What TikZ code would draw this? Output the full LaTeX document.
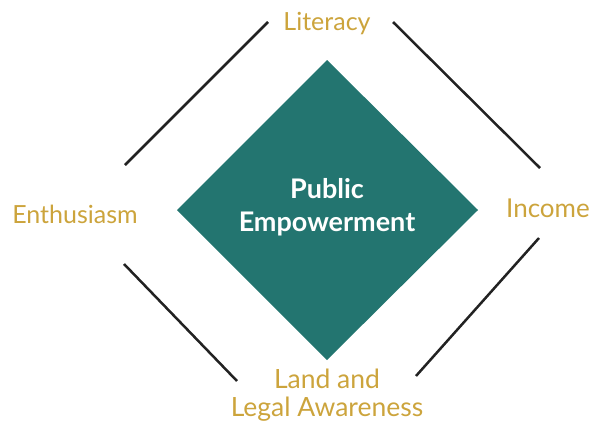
\documentclass[tikz,border=0pt]{standalone}
\usepackage{fontspec}
\setmainfont{Lato}
\definecolor{teal1}{HTML}{237570}
\definecolor{gold1}{HTML}{CCA43C}
\definecolor{line1}{HTML}{222222}
\begin{document}
\begin{tikzpicture}[x=1pt,y=-1pt,
  lbl/.style={text=gold1,font=\fontsize{25}{28}\selectfont,inner sep=0pt,align=center},
  conn/.style={draw=line1,line width=2.5pt}]
\useasboundingbox (0,0) rectangle (594,423);
\fill[teal1] (327,60) -- (478,210) -- (327,360) -- (177,210) -- cycle;
\node[text=white,font=\bfseries\fontsize{27}{33}\selectfont,align=center,inner sep=0pt] (c) at (327,207) {Public\\Empowerment};
\node[lbl] (lit) at (327,24) {Literacy};
\node[lbl] (ent) at (75,214) {Enthusiasm};
\node[lbl,font=\fontsize{26}{28}\selectfont] (inc) at (548,208) {Income};
\node[lbl,font=\fontsize{26.5}{28}\selectfont] (land) at (327,395) {Land and\\Legal Awareness};
\coordinate (a1) at (125,165); \coordinate (a2) at (268,22);
\coordinate (b1) at (393,22); \coordinate (b2) at (540,168);
\coordinate (c1) at (539,238); \coordinate (c2) at (416,376);
\coordinate (d1) at (124,264); \coordinate (d2) at (237,381);
\draw[conn] (a1) -- (a2);
\draw[conn] (b1) -- (b2);
\draw[conn] (c1) -- (c2);
\draw[conn] (d1) -- (d2);
\end{tikzpicture}
\end{document}
